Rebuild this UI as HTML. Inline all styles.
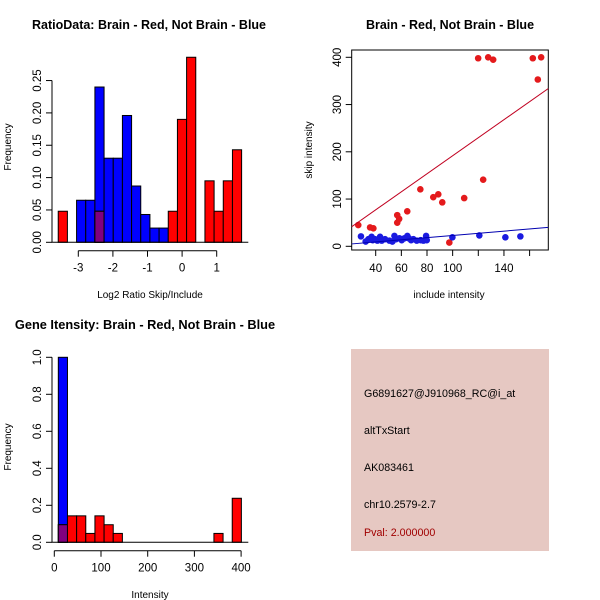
<!DOCTYPE html>
<html><head><meta charset="utf-8"><style>
html,body{margin:0;padding:0;background:#fff}
svg{display:block;font-family:"Liberation Sans",sans-serif}
</style></head><body>
<svg id="root" width="600" height="600" viewBox="0 0 600 600">
<rect width="600" height="600" fill="#fff"/>
<g id="p1"></g>
<g id="p2"></g>
<g id="p3"></g>
<g id="p4">
<rect x="351" y="349" width="198" height="202" fill="#e6c8c2"/>
<text x="364" y="397" font-size="10.7" fill="#000">G6891627@J910968_RC@i_at</text>
<text x="364" y="434" font-size="10.7" fill="#000">altTxStart</text>
<text x="364" y="471" font-size="10.7" fill="#000">AK083461</text>
<text x="364" y="508" font-size="10.7" fill="#000">chr10.2579-2.7</text>
<text x="364" y="536" font-size="10.7" fill="#a00000">Pval: 2.000000</text>
</g>
</svg>
<script>
// ---- Plot 1 data ----
const ratioBinStart = -3.58;
const ratioBinWidth = 0.265;
const ratioBlue = [0,0,0.065,0.065,0.24,0.13,0.13,0.196,0.087,0.043,0.022,0.022,0,0,0,0,0,0,0,0];
const ratioRed  = [0.048,0,0,0,0.048,0,0,0,0,0,0,0,0.048,0.19,0.286,0,0.095,0.048,0.095,0.143];
const ratioXTicks = [-3,-2,-1,0,1];
const ratioYTicks = ["0.00","0.05","0.10","0.15","0.20","0.25"];
// ---- Plot 2 data ----
const redX = [26.4,35.6,38.2,56.8,56.8,58.3,64.6,74.8,84.9,88.8,91.9,97.4,109,119.9,123.8,127.7,131.6,162.5,166.4,169];
const redY = [45,40,38,66,50,58,74,120.6,104,110,93,8,102,398,141,400,395,398,353,400];
const blueX = [28.5,32.2,34.3,36.8,37.7,39.5,41.3,43.4,44.7,47.3,50.7,53,54.6,55.9,58.5,60.3,62.4,64.7,65.8,67.6,69.4,72,75.1,77.2,79.3,79.8,99.8,120.8,141.1,152.8];
const blueY = [21,10,15,20,13,15,12,20,12,15,12,10,22,15,17,13,17,22,17,13,15,12,13,12,22,13,19,23,19,21];
const redFit = [41.5,334];
const blueFit = [5,40];
const fitX = [21.3,174.6];
const scatXTicks = [40,60,80,100,120,140,160];
const scatXLabels = ["40","60","80","100","","140",""];
const scatYTicks = [0,100,200,300,400];
// ---- Plot 3 data ----
const intBinStart = 8.6;
const intBinWidth = 19.6;
const intBlue = [1.0,0,0,0,0,0,0,0,0,0,0,0,0,0,0,0,0,0,0,0];
const intRed  = [0.095,0.143,0.143,0.048,0.143,0.095,0.048,0,0,0,0,0,0,0,0,0,0,0.048,0,0.238];
const intXTicks = [0,100,200,300,400];
const intYTicks = ["0.0","0.2","0.4","0.6","0.8","1.0"];

const NS="http://www.w3.org/2000/svg";
function mk(parent,tag,attrs,text){const e=document.createElementNS(NS,tag);for(const k in attrs)e.setAttribute(k,attrs[k]);if(text!==undefined)e.textContent=text;parent.appendChild(e);return e;}

function hist(g,o){
  const sx=v=>o.x0+(v-o.xd0)*o.kx, sy=v=>o.y0-v*o.ky;
  const n=o.blue.length;
  for(let i=0;i<n;i++){
    const a=sx(o.bs+i*o.bw), b=sx(o.bs+(i+1)*o.bw);
    const bl=o.blue[i], rd=o.red[i];
    if(bl>0){const r=mk(g,'rect',{x:a,y:sy(bl),width:b-a,height:sy(0)-sy(bl),fill:'#0000ff',stroke:'#000','stroke-width':1});
      
      }
    if(rd>0){const r=mk(g,'rect',{x:a,y:sy(rd),width:b-a,height:sy(0)-sy(rd),fill:'#ff0000',stroke:'#000','stroke-width':1});
      
      }
    if(bl>0&&rd>0){const m=Math.min(bl,rd);const r=mk(g,'rect',{x:a,y:sy(m),width:b-a,height:sy(0)-sy(m),fill:'#800080',stroke:'#000','stroke-width':1});
      
      }
  }
  mk(g,'line',{x1:o.bx1,x2:o.bx2,y1:sy(0),y2:sy(0),stroke:'#000'});
  const yv=o.yt.map(Number);
  mk(g,'line',{x1:o.yax,x2:o.yax,y1:sy(yv[0]),y2:sy(yv[yv.length-1]),stroke:'#000'});
  o.yt.forEach(t=>{const y=sy(Number(t));mk(g,'line',{x1:o.yax-6,x2:o.yax,y1:y,y2:y,stroke:'#000'});
    const tx=mk(g,'text',{x:0,y:0,'font-size':11.5,'text-anchor':'middle',transform:`translate(${o.yax-11},${y}) rotate(-90)`},t);
    
    });
  mk(g,'line',{x1:sx(o.xt[0]),x2:sx(o.xt[o.xt.length-1]),y1:o.xax,y2:o.xax,stroke:'#000'});
  o.xt.forEach(t=>{const x=sx(t);mk(g,'line',{x1:x,x2:x,y1:o.xax,y2:o.xax+6,stroke:'#000'});
    const tx=mk(g,'text',{x:x,y:o.xax+21,'font-size':11.5,'text-anchor':'middle'},String(t));
    
    });
}

// Plot 1
const g1=document.getElementById('p1');
hist(g1,{x0:78.3,xd0:-3,kx:34.6,y0:242.3,ky:647,blue:ratioBlue,red:ratioRed,bs:ratioBinStart,bw:ratioBinWidth,
  bx1:51.7,bx2:248.3,yax:52,yt:ratioYTicks,xt:ratioXTicks,xax:250.7});
let t=mk(g1,'text',{x:149,y:29,'font-size':12.5,'font-weight':'bold','text-anchor':'middle'},'RatioData: Brain - Red, Not Brain - Blue');


t=mk(g1,'text',{x:150,y:298,'font-size':10,'text-anchor':'middle'},'Log2 Ratio Skip/Include');


t=mk(g1,'text',{x:0,y:0,'font-size':10,'text-anchor':'middle',transform:'translate(11,147) rotate(-90)'},'Frequency');



// Plot 2
const g2=document.getElementById('p2');
const px=v=>375.7+(v-40)*1.2825, py=v=>246.3-v*0.4725;
mk(g2,'rect',{x:351.7,y:50,width:196.6,height:200,fill:'none',stroke:'#000'});
mk(g2,'clipPath',{id:'clip2'}).appendChild(document.createElementNS(NS,'rect'));
const cr=document.querySelector('#clip2 rect');cr.setAttribute('x',351.7);cr.setAttribute('y',50);cr.setAttribute('width',196.6);cr.setAttribute('height',200);
const gc=mk(g2,'g',{'clip-path':'url(#clip2)'});
redX.forEach((x,i)=>{const c=mk(gc,'circle',{cx:px(x),cy:py(redY[i]),r:3.3,fill:'#e41a1c'});
  
  });
blueX.forEach((x,i)=>{const c=mk(gc,'circle',{cx:px(x),cy:py(blueY[i]),r:3.3,fill:'#1a1ae0'});
  
  });
let l=mk(gc,'line',{x1:px(fitX[0]),y1:py(redFit[0]),x2:px(fitX[1]),y2:py(redFit[1]),stroke:'#c00020','stroke-width':1});


l=mk(gc,'line',{x1:px(fitX[0]),y1:py(blueFit[0]),x2:px(fitX[1]),y2:py(blueFit[1]),stroke:'#0000b0','stroke-width':1});


scatXTicks.forEach((v,i)=>{const x=px(v);mk(g2,'line',{x1:x,x2:x,y1:250,y2:256,stroke:'#000'});
  if(scatXLabels[i]){const tx=mk(g2,'text',{x:x,y:272,'font-size':11.5,'text-anchor':'middle'},scatXLabels[i]);
  
  }});
scatYTicks.forEach(v=>{const y=py(v);mk(g2,'line',{x1:345.7,x2:351.7,y1:y,y2:y,stroke:'#000'});
  const tx=mk(g2,'text',{x:0,y:0,'font-size':11.5,'text-anchor':'middle',transform:`translate(341,${y}) rotate(-90)`},String(v));
  
  });
t=mk(g2,'text',{x:450,y:29,'font-size':12.5,'font-weight':'bold','text-anchor':'middle'},'Brain - Red, Not Brain - Blue');


t=mk(g2,'text',{x:449,y:298,'font-size':10,'text-anchor':'middle'},'include intensity');


t=mk(g2,'text',{x:0,y:0,'font-size':10,'text-anchor':'middle',transform:'translate(312,150) rotate(-90)'},'skip intensity');



// Plot 3
const g3=document.getElementById('p3');
hist(g3,{x0:54.3,xd0:0,kx:0.467,y0:542.3,ky:185,blue:intBlue,red:intRed,bs:intBinStart,bw:intBinWidth,
  bx1:51.7,bx2:248.3,yax:52,yt:intYTicks,xt:intXTicks,xax:550.7});
t=mk(g3,'text',{x:145,y:329,'font-size':12.8,'font-weight':'bold','text-anchor':'middle'},'Gene Itensity: Brain - Red, Not Brain - Blue');


t=mk(g3,'text',{x:150,y:598,'font-size':10,'text-anchor':'middle'},'Intensity');


t=mk(g3,'text',{x:0,y:0,'font-size':10,'text-anchor':'middle',transform:'translate(11,447) rotate(-90)'},'Frequency');


</script>
</body></html>
